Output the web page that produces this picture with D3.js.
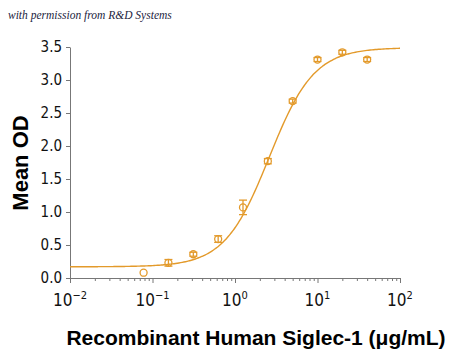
<!DOCTYPE html>
<html><head><meta charset="utf-8">
<script src="https://cdn.jsdelivr.net/npm/d3@7/dist/d3.min.js"></script>
<style>body{margin:0;background:#fff}svg{display:block}</style>
</head><body>
<svg id="c" width="450" height="355"></svg>
<script>
// Data
const conc = [0.078, 0.156, 0.3125, 0.625, 1.25, 2.5, 5, 10, 20, 40];
const meanOD = [0.08, 0.23, 0.36, 0.59, 1.07, 1.77, 2.68, 3.31, 3.42, 3.31];
const errOD = [0.0, 0.05, 0.03, 0.05, 0.11, 0.04, 0.03, 0.03, 0.03, 0.02];
const yTicks = [0, 0.5, 1.0, 1.5, 2.0, 2.5, 3.0, 3.5];
const xExps = [-2, -1, 0, 1, 2];
// 4-parameter logistic fit
const fitBottom = 0.17, fitTop = 3.49, fitEC50 = 2.6, fitHill = 1.6;

const color = "#E39A2B";
const svg = d3.select("#c");
const x = d3.scaleLog().domain([0.01, 100]).range([70, 400]);
const y = d3.scaleLinear().domain([0, 3.5]).range([278, 47]);

// watermark
svg.append("text").attr("x", 8).attr("y", 19)
  .attr("font-family", "'URW Chancery L','Liberation Serif',serif").attr("font-style", "italic")
  .attr("font-size", 11.5).attr("fill", "#1b2340").text("with permission from R&D Systems");

const fontT = "'DejaVu Sans Condensed','DejaVu Sans',sans-serif";
const axisCol = "#777";

// Y axis
const ya = svg.append("g").attr("transform", "translate(70,0)")
  .call(d3.axisLeft(y).tickValues(yTicks).tickFormat(d3.format(".1f")).tickSize(4).tickSizeOuter(0));
ya.select(".domain").attr("stroke", axisCol);
ya.selectAll(".tick line").attr("stroke", axisCol);
ya.selectAll(".tick text").attr("font-family", fontT).attr("font-stretch", "condensed")
  .attr("font-size", 15).attr("fill", "#111").attr("x", -8);

// X axis
const minor = [];
for (let e = -2; e < 2; e++) for (let k = 2; k <= 9; k++) minor.push(k * Math.pow(10, e));
const xaMinor = svg.append("g").attr("transform", "translate(0,278)")
  .call(d3.axisBottom(x).tickValues(minor).tickSize(3).tickFormat("").tickSizeOuter(0));
xaMinor.select(".domain").attr("stroke", axisCol);
xaMinor.selectAll(".tick line").attr("stroke", axisCol);
const xa = svg.append("g").attr("transform", "translate(0,278)")
  .call(d3.axisBottom(x).tickValues(xExps.map(e => Math.pow(10, e))).tickSize(5).tickFormat("").tickSizeOuter(0));
xa.select(".domain").attr("stroke", axisCol);
xa.selectAll(".tick line").attr("stroke", axisCol);
xExps.forEach(e => {
  const t = svg.append("text").attr("x", x(Math.pow(10, e))).attr("y", 306)
    .attr("text-anchor", "middle").attr("font-family", fontT).attr("font-stretch", "condensed")
    .attr("font-size", 17).attr("fill", "#111");
  t.append("tspan").text("10");
  t.append("tspan").attr("dy", -7).attr("font-size", 11).text(String(e).replace("-", "\u2212"));
});

// Titles
svg.append("text").attr("transform", "translate(28,163) rotate(-90)").attr("text-anchor", "middle")
  .attr("font-family", "'Liberation Sans',Arial,sans-serif").attr("font-weight", "bold")
  .attr("font-size", 22).attr("fill", "#000").text("Mean OD");
svg.append("text").attr("x", 256).attr("y", 345).attr("text-anchor", "middle")
  .attr("font-family", "'Liberation Sans',Arial,sans-serif").attr("font-weight", "bold")
  .attr("font-size", 21).attr("fill", "#000").text("Recombinant Human Siglec-1 (\u03BCg/mL)");

// Fit curve
const curveX = d3.range(-2, 2.0001, 0.02).map(e => Math.pow(10, e));
const f = c => fitBottom + (fitTop - fitBottom) / (1 + Math.pow(fitEC50 / c, fitHill));
svg.append("path").datum(curveX).attr("fill", "none").attr("stroke", color).attr("stroke-width", 1.4)
  .attr("d", d3.line().x(d => x(d)).y(d => y(f(d))).curve(d3.curveMonotoneX));

// Points with error bars
const pts = conc.map((c, i) => ({ c, v: meanOD[i], e: errOD[i] }));
const g = svg.append("g").attr("stroke", color).attr("fill", "none").attr("stroke-width", 1.3);
pts.forEach(p => {
  const cx = x(p.c);
  const top = y(p.v + Math.max(p.e, 0.03)), bot = y(p.v - Math.max(p.e, 0.03));
  if (p.e > 0) {
    g.append("line").attr("x1", cx).attr("x2", cx).attr("y1", top).attr("y2", bot);
    g.append("line").attr("x1", cx - 4).attr("x2", cx + 4).attr("y1", top).attr("y2", top);
    g.append("line").attr("x1", cx - 4).attr("x2", cx + 4).attr("y1", bot).attr("y2", bot);
  }
  g.append("circle").attr("cx", cx).attr("cy", y(p.v)).attr("r", 3.5);
});
</script>
</body></html>
